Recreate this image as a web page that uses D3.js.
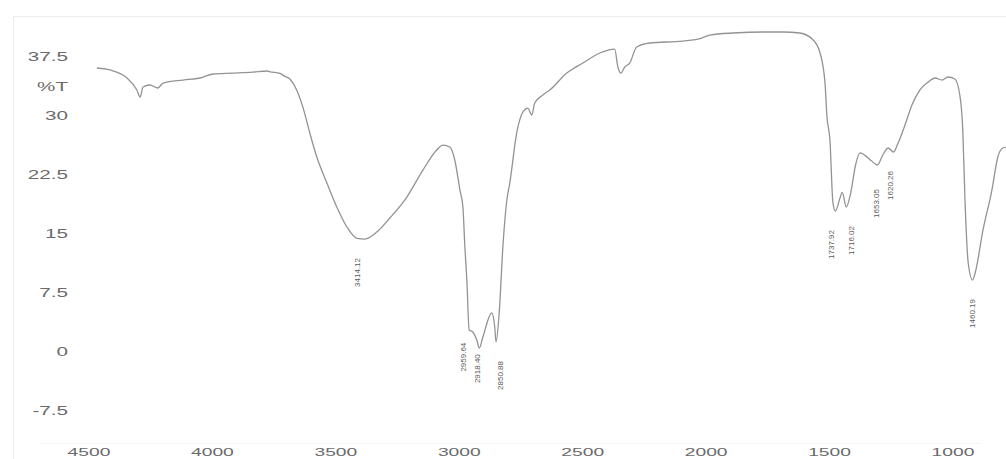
<!DOCTYPE html>
<html>
<head>
<meta charset="utf-8">
<script src="https://cdn.jsdelivr.net/npm/d3@7"></script>
<style>
  html, body { margin: 0; padding: 0; background: #fff; }
  svg { display: block; }
</style>
</head>
<body>
<svg id="chart" width="1006" height="459"></svg>
<script>
// FTIR spectrum: wavenumber (cm-1) vs transmittance (%T)
const wavenumbers = [
  4468, 4415, 4346, 4306, 4293, 4281, 4253, 4221, 4200, 4119, 4050, 3998, 3917, 3836, 3779, 3767,
  3726, 3710, 3686, 3660, 3633, 3605, 3577, 3536, 3496, 3455, 3414.12, 3382, 3334, 3281, 3212,
  3147, 3091, 3066, 3038, 3018, 2997, 2985, 2977, 2969, 2959.64, 2945, 2929, 2918.40, 2904, 2868,
  2856, 2850.88, 2838, 2823, 2807, 2795, 2767, 2742, 2722, 2706, 2694, 2661, 2633, 2564, 2499, 2430,
  2370, 2357, 2345, 2329, 2309, 2281, 2228, 2094, 2017, 1992, 1945, 1876, 1844, 1810, 1783, 1769,
  1759, 1755, 1749, 1743, 1737.92, 1729, 1724, 1716.02, 1707, 1697, 1688, 1678, 1665, 1653.05,
  1642, 1631, 1620.26, 1611, 1597, 1583, 1567, 1550, 1536, 1522, 1510, 1496, 1486, 1480, 1475.5,
  1469, 1460.19, 1455, 1439, 1421, 1409, 1399, 1389
];
const transmittance = [
  36.1, 35.85, 34.83, 33.3, 32.41, 33.68, 33.94, 33.56, 34.19, 34.57, 34.83, 35.34, 35.46, 35.59, 35.72, 35.62,
  35.42, 35.1, 34.7, 33.4, 31.1, 27.8, 24.79, 21.48, 18.43, 15.89, 14.45, 14.36, 15.25, 17.03, 19.7,
  23.13, 25.68, 26.31, 26.06, 24.41, 20.59, 18.43, 13.35, 9.15, 2.8, 2.54, 1.53, 0.51, 1.91, 4.96,
  3.18, 1.27, 4.96, 13.35, 19.32, 21.48, 27.84, 30.51, 31.01, 30.13, 31.65, 32.67, 33.3, 35.46, 36.73, 38.01,
  38.51, 36.23, 35.46, 36.23, 36.73, 38.77, 39.28, 39.53, 39.91, 40.29, 40.55, 40.68, 40.68, 40.55, 39.66, 38.01,
  34.19, 29.87, 26.95, 19.0, 17.92, 19.5, 20.3, 18.43, 20.2, 23.8, 25.3, 25.0, 24.3, 23.77,
  25.04, 25.93, 25.42, 26.57, 28.85, 31.4, 33.3, 34.32, 34.83, 34.57, 34.96, 34.7, 32.67, 28.22, 19.32,
  11.31, 9.15, 10.04, 15.51, 20.59, 24.79, 25.93, 26.06
];

// Labelled absorption bands
const peakWn = [3414.12, 2959.64, 2918.40, 2850.88, 1737.92, 1716.02, 1653.05, 1620.26, 1460.19];
const peakT  = [14.36, 3.6, 1.5, 1.27, 17.92, 18.43, 23.77, 25.42, 9.15];
const peakText = ["3414.12", "2959.64", "2918.40", "2850.88", "1737.92", "1716.02", "1653.05", "1620.26", "1460.19"];

// Axis tick labels
const xTicks = [4500, 4000, 3500, 3000, 2500, 2000, 1500, 1000];
const yTicks = [37.5, 30, 22.5, 15, 7.5, 0, -7.5];
const yTitle = "%T";

const svg = d3.select("#chart");
const W = 1006, H = 459;

// Spectrum is recorded with a 2x expanded scale below 2000 cm-1
const xData = d3.scaleLinear().domain([4500, 2000, 1000]).range([89, 706, 706 + 1000 * 0.4938]);
// Printed wavenumber scale
const xAxis = d3.scaleLinear().domain([4500, 1000]).range([89, 953]);
const y = d3.scaleLinear().domain([0, 37.5]).range([352, 57]);

// faint frame
svg.append("path")
  .attr("d", `M13.5,${H} V16.5 H${W}`)
  .attr("fill", "none").attr("stroke", "#ececec").attr("stroke-width", 1);
svg.append("line")
  .attr("x1", 40).attr("x2", 980).attr("y1", 443.5).attr("y2", 443.5)
  .attr("stroke", "#f3f3f3").attr("stroke-width", 1);

svg.append("defs").append("clipPath").attr("id", "plotclip")
  .append("rect").attr("x", 14).attr("y", 17).attr("width", W - 14).attr("height", H - 17);

const labelFont = "'Liberation Sans', Arial, sans-serif";
const tickColor = "#6a6a6a";

// y tick labels (horizontally stretched type)
const yAx = svg.append("g").attr("class", "y-axis");
yAx.selectAll("text.tick").data(yTicks).join("text")
  .attr("class", "tick")
  .attr("transform", d => `translate(68,${y(d)}) scale(1.72,1)`)
  .attr("text-anchor", "end")
  .attr("dy", "0.36em")
  .attr("font-family", labelFont)
  .attr("font-size", 12)
  .attr("fill", tickColor)
  .text(d => d);
yAx.append("text")
  .attr("transform", `translate(68,${y(33.75)}) scale(1.72,1)`)
  .attr("text-anchor", "end")
  .attr("dy", "0.36em")
  .attr("font-family", labelFont)
  .attr("font-size", 12)
  .attr("fill", tickColor)
  .text(yTitle);

// x tick labels along the bottom edge
const xAx = svg.append("g").attr("class", "x-axis");
xAx.selectAll("text").data(xTicks).join("text")
  .attr("transform", d => `translate(${xAxis(d)},456) scale(1.75,1)`)
  .attr("text-anchor", "middle")
  .attr("font-family", labelFont)
  .attr("font-size", 11)
  .attr("fill", tickColor)
  .text(d => d);

// spectrum trace
const data = wavenumbers.map((w, i) => ({ w, t: transmittance[i] }));
const line = d3.line()
  .x(d => xData(d.w))
  .y(d => y(d.t))
  .curve(d3.curveMonotoneX);

svg.append("g").attr("clip-path", "url(#plotclip)")
  .append("path")
  .datum(data)
  .attr("d", line)
  .attr("fill", "none")
  .attr("stroke", "#939393")
  .attr("stroke-width", 1.3)
  .attr("stroke-linejoin", "round");

// peak labels, nudged apart where bands crowd together
const nudge = { "2959.64": -6, "2918.40": -2, "2850.88": 4, "1737.92": -4, "1716.02": 5, "1653.05": -1, "1620.26": -3 };
const lift = { "2918.40": -5, "1653.05": 5 };
const peaks = peakWn.map((w, i) => ({ w, t: peakT[i], label: peakText[i] }));
svg.append("g").attr("class", "peaks")
  .selectAll("text").data(peaks).join("text")
  .attr("transform", d => `translate(${xData(d.w) + (nudge[d.label] || 0)},${y(d.t) + 19 + (lift[d.label] || 0)}) rotate(-90)`)
  .attr("text-anchor", "end")
  .attr("dy", "0.35em")
  .attr("font-family", labelFont)
  .attr("font-size", 8)
  .attr("fill", "#5a5a5a")
  .text(d => d.label);
</script>
</body>
</html>
